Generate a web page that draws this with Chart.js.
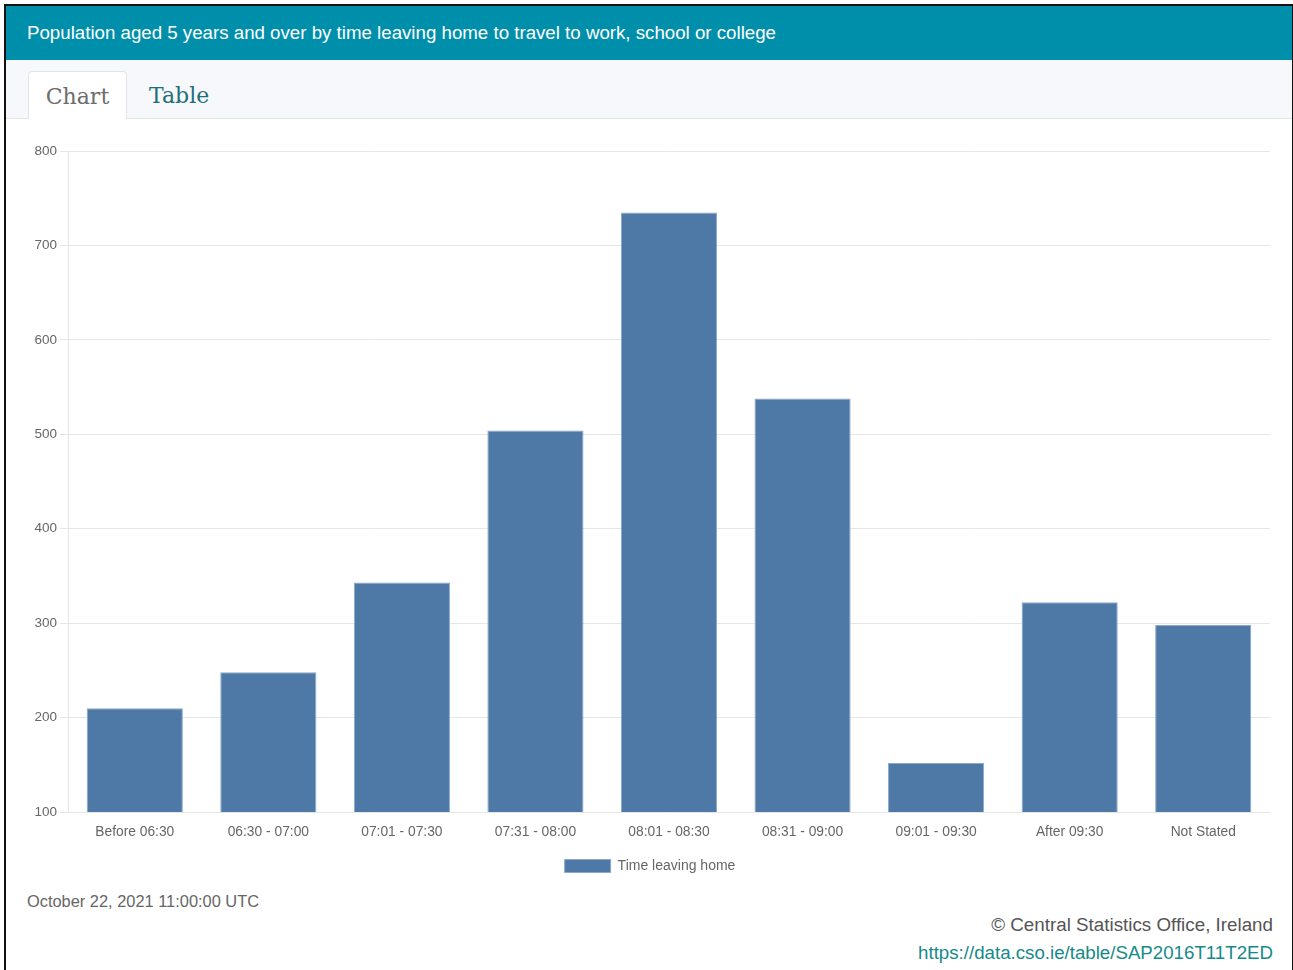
<!DOCTYPE html>
<html>
<head>
<meta charset="utf-8">
<script src="https://cdn.jsdelivr.net/npm/chart.js@4/dist/chart.umd.min.js"></script>
<style>
  html, body { margin: 0; padding: 0; background: #ffffff; width: 1293px; height: 970px; overflow: hidden; font-family: Arial, "Liberation Sans", sans-serif; }
  #frame { position: absolute; left: 4px; top: 4px; width: 1286px; height: 980px; border: 2px solid #111; background: #fff; }
  #header { position: absolute; left: 0; top: 0; width: 1286px; height: 54px; background: #008fab; color: #fff; font-size: 18.7px; line-height: 54px; padding-left: 21px; box-sizing: border-box; }
  #tabs { position: absolute; left: 0; top: 54px; width: 1286px; height: 59px; background: #f7f8fc; border-bottom: 1px solid #e1e4ea; box-sizing: border-box; }
  .tab { position: absolute; top: 11px; height: 48px; font-family: "DejaVu Serif", serif; font-size: 22px; line-height: 50px; }
  #tabChart { left: 22px; width: 99px; background: #fff; border: 1px solid #e1e4ea; border-bottom: none; border-radius: 4px 4px 0 0; color: #6d6d6d; text-align: center; box-sizing: border-box; }
  #tabTable { left: 143px; color: #1f6f7b; }
  #wrap { position: absolute; left: 0px; top: 114px; width: 1285px; height: 766px; }
  #date { position: absolute; left: 21px; top: 886px; font-size: 16.4px; color: #666; }
  #copy { position: absolute; right: 19px; top: 908px; font-size: 18.8px; color: #555; }
  #link { position: absolute; right: 19px; top: 936px; font-size: 18.7px; color: #168a8a; }
</style>
</head>
<body>
<div id="frame">
  <div id="header">Population aged 5 years and over by time leaving home to travel to work, school or college</div>
  <div id="tabs">
    <div class="tab" id="tabChart">Chart</div>
    <div class="tab" id="tabTable">Table</div>
  </div>
  <div id="wrap"><canvas id="c" width="1285" height="766"></canvas></div>
  <div id="date">October 22, 2021 11:00:00 UTC</div>
  <div id="copy">© Central Statistics Office, Ireland</div>
  <div id="link">https://data.cso.ie/table/SAP2016T11T2ED</div>
</div>
<script>
const categories = ["Before 06:30", "06:30 - 07:00", "07:01 - 07:30", "07:31 - 08:00", "08:01 - 08:30", "08:31 - 09:00", "09:01 - 09:30", "After 09:30", "Not Stated"];
const seriesLabel = "Time leaving home";
const values = [210, 248, 343, 504, 735, 538, 152, 322, 298];
const yTicks = [100, 200, 300, 400, 500, 600, 700, 800];

const FONT = 'Arial, "Liberation Sans", sans-serif';
const legendShift = {
  id: 'legendShift',
  afterLayout(chart) {
    if (chart.legend) { chart.legend.right += 24; }
  }
};
new Chart(document.getElementById('c'), {
  type: 'bar',
  data: {
    labels: categories,
    datasets: [{
      label: seriesLabel,
      data: values,
      backgroundColor: '#4e79a7',
      borderColor: '#8aa9cc',
      borderWidth: 1
    }]
  },
  plugins: [legendShift],
  options: {
    responsive: false,
    animation: false,
    layout: { padding: { left: 0, right: 21, top: 31, bottom: 3 } },
    plugins: {
      legend: {
        position: 'bottom',
        labels: {
          boxWidth: 46, boxHeight: 13, padding: 10,
          color: '#666',
          font: { family: FONT, size: 14 }
        }
      },
      tooltip: { enabled: false }
    },
    scales: {
      x: {
        grid: { display: false, drawTicks: false },
        border: { display: false },
        ticks: { color: '#666', padding: 12, maxRotation: 0, font: { family: FONT, size: 13.8 } },
        afterFit: (s) => { s.height = 37; }
      },
      y: {
        min: yTicks[0],
        max: yTicks[yTicks.length - 1],
        afterBuildTicks: (s) => { s.ticks = yTicks.map(v => ({ value: v })); },
        grid: { color: '#e6e6e6', tickLength: 8 },
        border: { display: true, color: '#e6e6e6' },
        ticks: { color: '#666', padding: 3, font: { family: FONT, size: 13.5 } },
        afterFit: (s) => { s.width = 62; }
      }
    }
  }
});
</script>
</body>
</html>
